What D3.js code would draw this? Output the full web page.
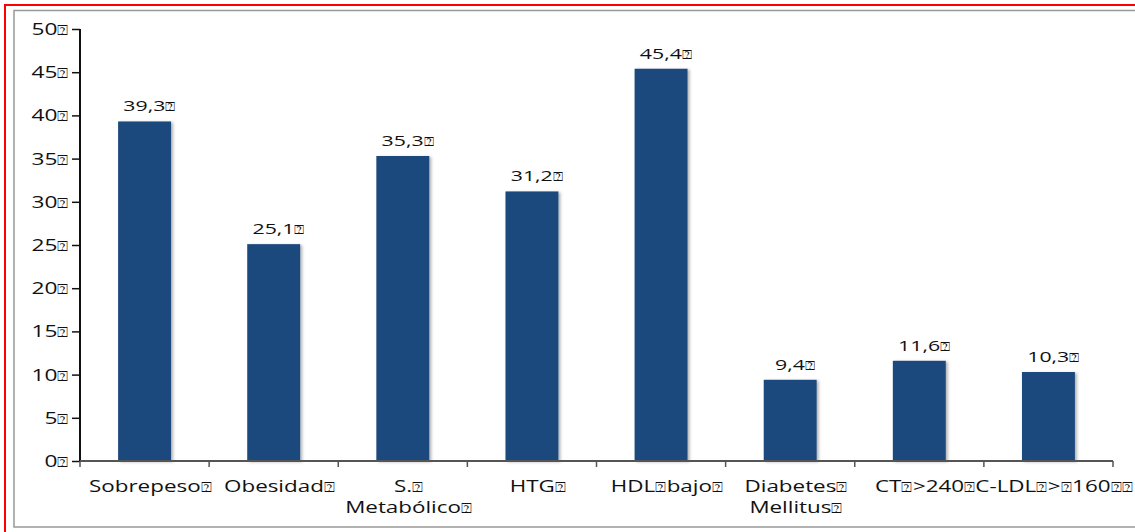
<!DOCTYPE html>
<html>
<head>
<meta charset="utf-8">
<script src="https://cdn.jsdelivr.net/npm/d3@7"></script>
<style>
  html, body { margin: 0; padding: 0; background: #fff; }
  svg { display: block; }
  text { font-family: "Open Sans", "DejaVu Sans", sans-serif; fill: #111; }
</style>
</head>
<body>
<svg id="chart" width="1135" height="532"></svg>
<script>
const B = "\u2370"; // missing-glyph box as shown in the reference
const categories = [
  ["Sobrepeso" + B],
  ["Obesidad" + B],
  ["S." + B, "Metabólico" + B],
  ["HTG" + B],
  ["HDL" + B + "bajo" + B],
  ["Diabetes" + B, "Mellitus" + B],
  ["CT" + B + ">240" + B],
  ["C-LDL" + B + ">" + B + "160" + B + B]
];
const values = [39.3, 25.1, 35.3, 31.2, 45.4, 9.4, 11.6, 10.3];
const valueLabels = ["39,3", "25,1", "35,3", "31,2", "45,4", "9,4", "11,6", "10,3"].map(s => s + B);
const yTicks = [0, 5, 10, 15, 20, 25, 30, 35, 40, 45, 50];
const yTickLabels = yTicks.map(v => v + B);

const svg = d3.select("#chart");
const SX = 1.42;
const SXL = 1.40;

// writes a string into a text element, rendering the box glyphs a bit smaller
function boxText(sel, str) {
  sel.text(null);
  const parts = str.split(B);
  parts.forEach((p, k) => {
    if (p.length) sel.append("tspan").text(p);
    if (k < parts.length - 1) sel.append("tspan").attr("font-size", "0.8em").text(B);
  });
}

// frames
svg.append("rect").attr("x", 5).attr("y", 5).attr("width", 1140).attr("height", 540)
  .attr("fill", "none").attr("stroke", "#ff0000").attr("stroke-width", 2);
svg.append("rect").attr("x", 14).attr("y", 10.5).attr("width", 1130).attr("height", 516.5)
  .attr("fill", "none").attr("stroke", "#999").attr("stroke-width", 1.5);

const defs = svg.append("defs");
const f = defs.append("filter").attr("id", "sh").attr("x", "-20%").attr("y", "-20%").attr("width", "140%").attr("height", "140%");
f.append("feDropShadow").attr("dx", 2).attr("dy", 1).attr("stdDeviation", 1.5)
  .attr("flood-color", "#000").attr("flood-opacity", 0.3);

const idx = d3.range(values.length);
const x = d3.scaleBand().domain(idx).range([80, 1113]).paddingInner(0.59).paddingOuter(0.295);
const y = d3.scaleLinear().domain([0, 50]).range([461, 29]);

// bars
svg.append("g").selectAll("rect").data(idx).join("rect")
  .attr("x", i => x(i)).attr("width", x.bandwidth())
  .attr("y", i => y(values[i])).attr("height", i => y(0) - y(values[i]))
  .attr("fill", "#1f497d").attr("filter", "url(#sh)");

// value labels
svg.append("g").selectAll("text").data(idx).join("text")
  .attr("transform", i => `translate(${x(i) + x.bandwidth() / 2 + 5},${y(values[i]) - 10}) scale(${SX},1)`)
  .attr("text-anchor", "middle").attr("font-size", 15)
  .each(function (i) { boxText(d3.select(this), valueLabels[i]); });

// y axis
const yAxis = d3.axisLeft(y).tickValues(yTicks).tickSize(8).tickFormat((d, i) => yTickLabels[i]);
const gy = svg.append("g").attr("transform", "translate(80,0)").call(yAxis);
gy.select(".domain").attr("stroke", "#111").attr("stroke-width", 2).attr("d", `M0,${y(50)}V${y(0)}`);
gy.selectAll(".tick line").attr("stroke", "#111").attr("stroke-width", 1.5);
gy.selectAll(".tick text").attr("font-size", 16).attr("fill", "#111")
  .attr("x", null).attr("dy", null)
  .attr("transform", `translate(-11,5.5) scale(${SX},1)`)
  .attr("font-family", "\"Open Sans\", \"DejaVu Sans\", sans-serif")
  .each(function (d, i) { boxText(d3.select(this), yTickLabels[i]); });

// x axis
const xb = d3.scaleLinear().domain([0, values.length]).range([80, 1113]);
const gx = svg.append("g");
gx.append("line").attr("x1", 80).attr("x2", 1113).attr("y1", y(0)).attr("y2", y(0))
  .attr("stroke", "#555").attr("stroke-width", 2);
gx.selectAll("line.t").data(d3.range(values.length + 1)).join("line").attr("class", "t")
  .attr("x1", d => xb(d)).attr("x2", d => xb(d)).attr("y1", y(0)).attr("y2", y(0) + 6)
  .attr("stroke", "#555").attr("stroke-width", 1.5);

const lbl = svg.append("g").selectAll("g").data(idx).join("g")
  .attr("transform", i => `translate(${x(i) + x.bandwidth() / 2 + 6},0)`);
lbl.each(function (i) {
  const g = d3.select(this);
  categories[i].forEach((line, k) => {
    const t = g.append("text").attr("transform", `translate(0,${492 + k * 20.5}) scale(${SXL},1)`)
      .attr("text-anchor", "middle").attr("font-size", 16);
    boxText(t, line);
  });
});
</script>
</body>
</html>
